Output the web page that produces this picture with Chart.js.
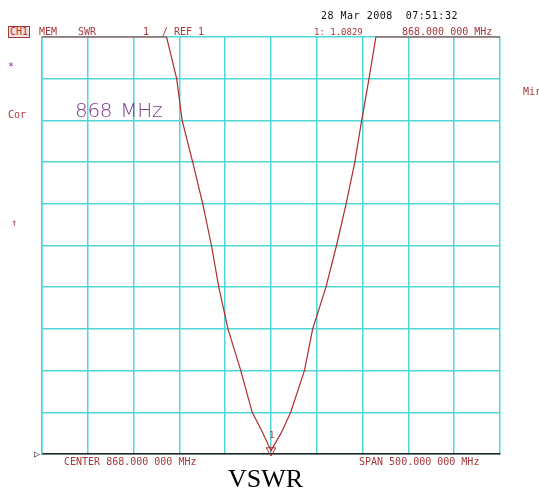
<!DOCTYPE html><html lang="en">
<head>
  <meta charset="UTF-8" />
  <title>VSWR</title>
  <script src="https://cdn.jsdelivr.net/npm/chart.js"></script>
  <style>
    :root {
      --grid: #4fd6d6;
      --label: #a8383c;
      --trace: #b02c2c;
      --purple: #7c3a8c;
    }
    body {
      margin: 0;
      background: #fff;
    }
    #wrap {
      position: relative;
      width: 539px;
      height: 493px;
      overflow: hidden;
    }
    #chart {
      position: absolute;
      left: 0;
      top: 0;
    }
    .t {
      position: absolute;
      font-family: 'DejaVu Sans Mono', monospace;
      font-size: 10px;
      line-height: 10px;
      color: var(--label);
      white-space: pre;
    }
    #ch1 {
      border: 1px solid var(--label);
      background: #f4dede;
      padding: 0 1px;
    }
    #big {
      font-family: 'DejaVu Sans', sans-serif;
      font-weight: 200;
      font-size: 20px;
      line-height: 20px;
      color: var(--purple);
      word-spacing: 2px;
      letter-spacing: -0.3px;
    }
    #title {
      position: absolute;
      left: 228px;
      top: 466px;
      font-family: 'Liberation Serif', serif;
      font-size: 26px;
      line-height: 26px;
      color: #000;
    }
  </style>
</head>
<body>
<div id="wrap">
  <canvas id="chart" width="539" height="493"></canvas>
  <div class="t" id="ch1" style="left:8px;top:26px;">CH1</div>
  <div class="t" style="left:39px;top:27px;">MEM</div>
  <div class="t" style="left:78px;top:27px;">SWR</div>
  <div class="t" style="left:143px;top:27px;">1</div>
  <div class="t" style="left:162px;top:27px;">/ REF 1</div>
  <div class="t" style="left:321px;top:11px;color:#111;letter-spacing:0.5px;">28 Mar 2008  07:51:32</div>
  <div class="t" style="left:314px;top:27px;font-size:9px;">1: 1.0829</div>
  <div class="t" style="left:402px;top:27px;">868.000 000 MHz</div>
  <div class="t" style="left:8px;top:62px;color:#8a2a9a;">*</div>
  <div class="t" style="left:8px;top:110px;">Cor</div>
  <div class="t" style="left:11px;top:218px;">↑</div>
  <div class="t" style="left:523px;top:87px;">Mir</div>
  <div class="t" id="big" style="left:75px;top:100px;">868 MHz</div>
  <div class="t" style="left:34px;top:449px;color:#222;">▷</div>
  <div class="t" style="left:269px;top:430px;font-size:9px;">1</div>
  <div class="t" style="left:64px;top:457px;">CENTER 868.000 000 MHz</div>
  <div class="t" style="left:359px;top:457px;">SPAN 500.000 000 MHz</div>
  <div id="title">VSWR</div>
</div>

<script>
  // frequency (MHz) and SWR
  const freqMHz = [618, 754, 765, 771, 782.5, 793.5, 803, 811, 821, 835, 847.5, 858, 868,
                   879, 889.5, 904.5, 913.5, 928, 939.5, 950, 959.5, 967, 975, 982.5, 1118];
  const swr = [11, 11, 10, 9, 8, 7, 6, 5, 4, 3, 2, 1.55, 1.08,
               1.5, 2, 3, 4, 5, 6, 7, 8, 9, 10, 11, 11];
  const markerFreq = [868];
  const markerSwr = [1.0829];

  const xMin = 618, xMax = 1118, xStep = 50;
  const yMin = 1, yMax = 11, yStep = 1;

  const css = getComputedStyle(document.documentElement);
  const gridColor = css.getPropertyValue('--grid').trim();
  const traceColor = css.getPropertyValue('--trace').trim();

  new Chart(document.getElementById('chart'), {
    type: 'line',
    data: {
      datasets: [{
        label: 'SWR',
        data: freqMHz.map((f, i) => ({ x: f, y: swr[i] })),
        borderColor: traceColor,
        borderWidth: 1.2,
        pointRadius: 0,
        tension: 0,
        order: 2
      }, {
        label: 'Marker 1',
        data: markerFreq.map((f, i) => ({ x: f, y: markerSwr[i] })),
        showLine: false,
        pointStyle: 'triangle',
        rotation: 180,
        pointRadius: 5.5,
        pointBorderColor: traceColor,
        pointBackgroundColor: 'rgba(255,255,255,0)',
        pointBorderWidth: 1,
        order: 1
      }]
    },
    options: {
      responsive: false,
      animation: false,
      clip: false,
      layout: { padding: { left: 42, top: 37, right: 39, bottom: 39 } },
      plugins: {
        legend: { display: false },
        tooltip: { enabled: false }
      },
      scales: {
        x: {
          type: 'linear',
          min: xMin,
          max: xMax,
          ticks: { display: false, stepSize: xStep },
          grid: { color: gridColor, lineWidth: 1.5, drawTicks: false },
          border: { display: true, color: '#222', width: 1.5 }
        },
        y: {
          min: yMin,
          max: yMax,
          ticks: { display: false, stepSize: yStep },
          grid: { color: gridColor, lineWidth: 1.5, drawTicks: false },
          border: { display: true, color: gridColor, width: 1.5 }
        }
      }
    }
  });
</script>
</body>
</html>
